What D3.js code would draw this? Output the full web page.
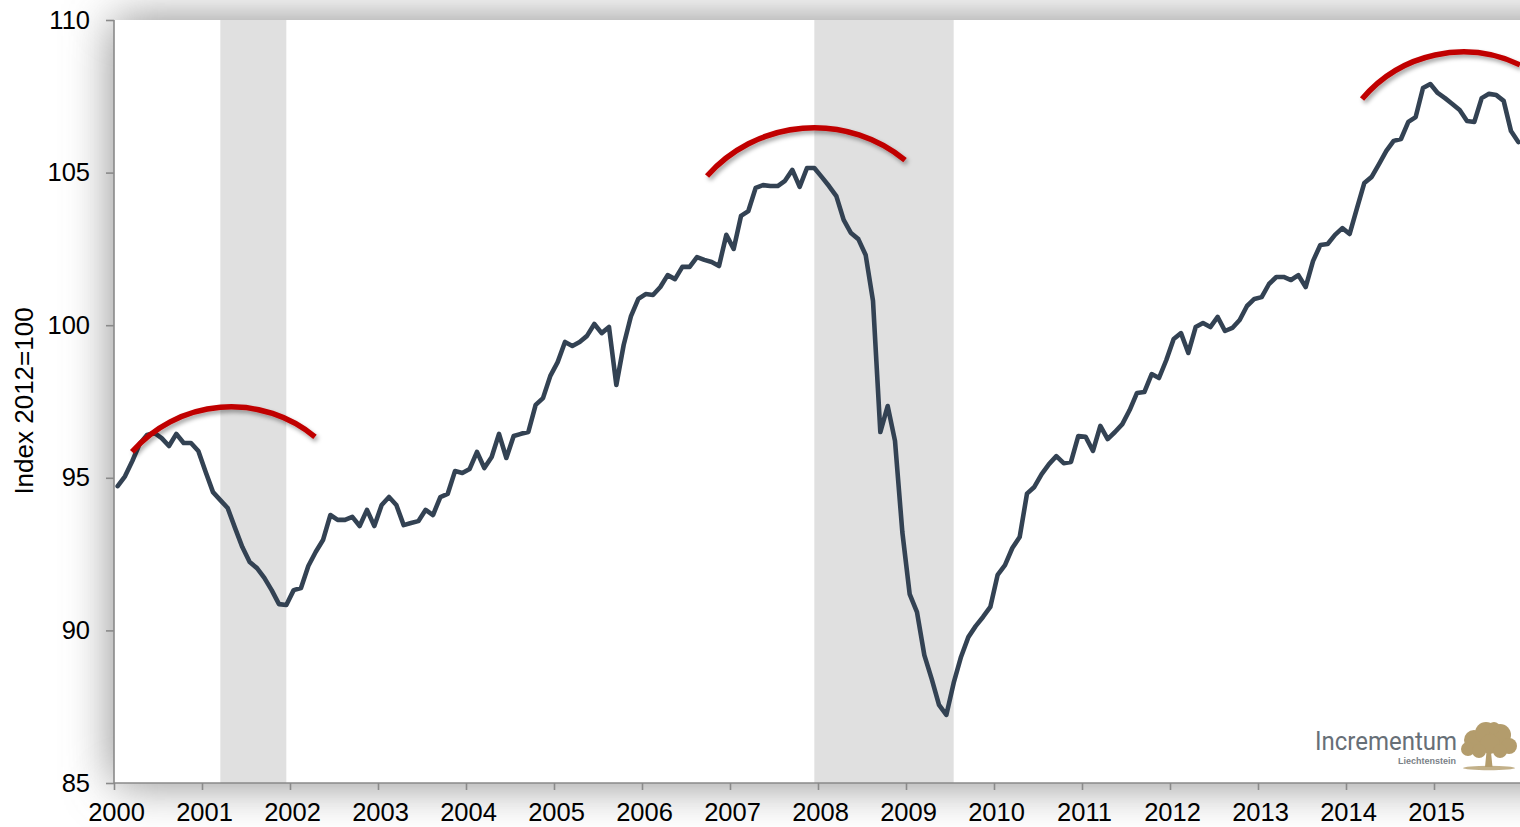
<!DOCTYPE html>
<html>
<head>
<meta charset="utf-8">
<script src="https://cdn.jsdelivr.net/npm/d3@7"></script>
<style>
  html, body { margin: 0; padding: 0; background: #ffffff; }
  svg { display: block; }
</style>
</head>
<body>
<svg id="chart" width="1520" height="827"></svg>
<script>
// ---------------- DATA ----------------
const startYear = 2000;
const yearTicks = [2000, 2001, 2002, 2003, 2004, 2005, 2006, 2007, 2008, 2009, 2010, 2011, 2012, 2013, 2014, 2015];
const yTicks = [85, 90, 95, 100, 105, 110];
const yTitle = "Index 2012=100";

// monthly index values, Jan 2000 .. Dec 2015
const indexValues = [
  94.73, 95.05, 95.55, 96.11, 96.40, 96.47, 96.30, 96.04, 96.44, 96.14, 96.14, 95.88,   // 2000
  95.19, 94.53, 94.27, 94.01, 93.36, 92.73, 92.24, 92.04, 91.72, 91.32, 90.86, 90.83,   // 2001
  91.32, 91.39, 92.11, 92.57, 92.96, 93.78, 93.62, 93.62, 93.72, 93.42, 93.95, 93.42,   // 2002
  94.11, 94.37, 94.11, 93.45, 93.52, 93.58, 93.95, 93.78, 94.37, 94.47, 95.22, 95.16,   // 2003
  95.29, 95.85, 95.32, 95.68, 96.44, 95.65, 96.37, 96.44, 96.50, 97.39, 97.61, 98.34,   // 2004
  98.79, 99.45, 99.32, 99.45, 99.65, 100.04, 99.74, 99.94, 98.04, 99.35, 100.30, 100.86, // 2005
  101.02, 100.99, 101.25, 101.64, 101.51, 101.91, 101.91, 102.23, 102.14, 102.07, 101.94, 102.96, // 2006
  102.50, 103.58, 103.74, 104.50, 104.59, 104.56, 104.56, 104.73, 105.09, 104.53, 105.15, 105.15, // 2007
  104.86, 104.56, 104.23, 103.45, 103.02, 102.82, 102.30, 100.80, 96.50, 97.35, 96.21, 93.22,   // 2008
  91.19, 90.60, 89.19, 88.41, 87.56, 87.23, 88.28, 89.13, 89.78, 90.14, 90.44, 90.77,   // 2009
  91.82, 92.14, 92.70, 93.06, 94.48, 94.70, 95.12, 95.45, 95.71, 95.48, 95.52, 96.37,   // 2010
  96.34, 95.88, 96.70, 96.27, 96.50, 96.76, 97.22, 97.78, 97.81, 98.40, 98.27, 98.86,   // 2011
  99.55, 99.74, 99.09, 99.94, 100.07, 99.94, 100.27, 99.81, 99.91, 100.17, 100.63, 100.86, // 2012
  100.92, 101.35, 101.58, 101.58, 101.48, 101.64, 101.25, 102.10, 102.63, 102.66, 102.96, 103.18, // 2013
  102.99, 103.84, 104.66, 104.86, 105.28, 105.71, 106.04, 106.10, 106.66, 106.82, 107.77, 107.90, // 2014
  107.61, 107.44, 107.25, 107.05, 106.69, 106.66, 107.44, 107.58, 107.54, 107.35, 106.36, 106.00  // 2015
];

// recessions (first and last month); shading runs from mid start month to mid month after end
const recessionStarts = ["2001-03", "2007-12"];
const recessionEnds   = ["2001-11", "2009-06"];

// red "top" arcs, in data units: start, top, end  [fractional year, index]
const arcStarts = [[2000.205, 95.85], [2006.739, 104.89], [2014.182, 107.41]];
const arcTops   = [[2001.261, 97.32], [2007.852, 106.46], [2015.295, 108.95]];
const arcEnds   = [[2002.284, 96.34], [2008.989, 105.41], [2015.977, 108.53]];

// ---------------- LAYOUT ----------------
const W = 1520, H = 827;
const plotLeft = 114, plotTop = 20, plotBottom = 783, plotRight = 1520;

const svg = d3.select("#chart");
const defs = svg.append("defs");

const x = d3.scaleLinear().domain([2000, 2016]).range([plotLeft, plotLeft + 88 * 16]);
const y = d3.scaleLinear().domain([85, 110]).range([plotBottom, plotTop]);

const monthPos = i => startYear + (i + 0.5) / 12;
const parseMonth = s => { const [yy, mm] = s.split("-").map(Number); return yy + (mm - 1 + 0.5) / 12; };

// shadow / glow around plot frame
const glow = defs.append("filter").attr("id", "glow")
  .attr("filterUnits", "userSpaceOnUse")
  .attr("x", -200).attr("y", -200).attr("width", W + 600).attr("height", H + 400);
glow.append("feGaussianBlur").attr("stdDeviation", 24);

svg.append("rect")
  .attr("x", plotLeft).attr("y", plotTop)
  .attr("width", plotRight - plotLeft + 200).attr("height", plotBottom - plotTop)
  .attr("fill", "#868686")
  .attr("filter", "url(#glow)");

svg.append("rect")
  .attr("x", plotLeft).attr("y", plotTop)
  .attr("width", plotRight - plotLeft + 10).attr("height", plotBottom - plotTop)
  .attr("fill", "#ffffff");

// clip
defs.append("clipPath").attr("id", "plotClip")
  .append("rect")
  .attr("x", plotLeft).attr("y", plotTop - 10)
  .attr("width", plotRight - plotLeft).attr("height", plotBottom - plotTop + 10);

defs.append("clipPath").attr("id", "plotClipStrict")
  .append("rect")
  .attr("x", plotLeft).attr("y", plotTop)
  .attr("width", plotRight - plotLeft).attr("height", plotBottom - plotTop);

// recession shading
const rec = recessionStarts.map((s, i) => ({ s: parseMonth(s), e: parseMonth(recessionEnds[i]) + 1 / 12 }));
svg.append("g").attr("clip-path", "url(#plotClipStrict)")
  .selectAll("rect").data(rec).join("rect")
  .attr("x", d => x(d.s))
  .attr("width", d => x(d.e) - x(d.s))
  .attr("y", plotTop)
  .attr("height", plotBottom - plotTop)
  .attr("fill", "#e0e0e0");

// axes
const axisColor = "#8a8a8a";
const fontFam = "'Liberation Sans', Arial, Helvetica, sans-serif";

const yAxis = d3.axisLeft(y).tickValues(yTicks).tickSize(8).tickPadding(16).tickFormat(d3.format("d"));
const gy = svg.append("g").attr("transform", `translate(${plotLeft},0)`).call(yAxis);
gy.select(".domain").attr("stroke", axisColor).attr("stroke-width", 1.6)
  .attr("d", `M0,${plotTop}V${plotBottom}`);
gy.selectAll(".tick line").attr("stroke", axisColor).attr("stroke-width", 1.6);
gy.selectAll(".tick text").attr("fill", "#000").style("font-family", fontFam).style("font-size", "25.5px");

const xAxis = d3.axisBottom(x).tickValues(yearTicks).tickSize(7).tickPadding(13).tickFormat(d3.format("d"));
const gx = svg.append("g").attr("transform", `translate(0,${plotBottom})`).call(xAxis);
gx.select(".domain").attr("stroke", axisColor).attr("stroke-width", 1.6)
  .attr("d", `M${plotLeft},0H${plotRight}`);
gx.selectAll(".tick line").attr("stroke", axisColor).attr("stroke-width", 1.6);
gx.selectAll(".tick text").attr("fill", "#000").style("font-family", fontFam).style("font-size", "25.5px")
  .attr("dx", 2);

// y-axis title
svg.append("text")
  .attr("transform", `translate(33,401) rotate(-90)`)
  .attr("text-anchor", "middle")
  .style("font-family", fontFam).style("font-size", "26px")
  .attr("fill", "#000")
  .text(yTitle);

// main line
const line = d3.line().x((d, i) => x(monthPos(i))).y(d => y(d));
svg.append("path")
  .attr("clip-path", "url(#plotClip)")
  .datum(indexValues)
  .attr("d", line)
  .attr("fill", "none")
  .attr("stroke", "#334253")
  .attr("stroke-width", 4.6)
  .attr("stroke-linejoin", "round")
  .attr("stroke-linecap", "round");

// red arcs
const arcShadow = defs.append("filter").attr("id", "arcShadow")
  .attr("x", "-20%").attr("y", "-50%").attr("width", "140%").attr("height", "200%");
arcShadow.append("feDropShadow").attr("dx", 2).attr("dy", 3).attr("stdDeviation", 2)
  .attr("flood-color", "#000").attr("flood-opacity", 0.35);

function circleArc(p1, p2, p3) {
  const [ax, ay] = p1, [bx, by] = p2, [cx, cy] = p3;
  const d = 2 * (ax * (by - cy) + bx * (cy - ay) + cx * (ay - by));
  const ux = ((ax * ax + ay * ay) * (by - cy) + (bx * bx + by * by) * (cy - ay) + (cx * cx + cy * cy) * (ay - by)) / d;
  const uy = ((ax * ax + ay * ay) * (cx - bx) + (bx * bx + by * by) * (ax - cx) + (cx * cx + cy * cy) * (bx - ax)) / d;
  const r = Math.hypot(ax - ux, ay - uy);
  return `M${ax},${ay}A${r},${r} 0 0 1 ${cx},${cy}`;
}
const arcData = arcStarts.map((s, i) => [
  [x(s[0]), y(s[1])],
  [x(arcTops[i][0]), y(arcTops[i][1])],
  [x(arcEnds[i][0]), y(arcEnds[i][1])]
]);
svg.append("g").attr("clip-path", "url(#plotClip)")
  .selectAll("path").data(arcData).join("path")
  .attr("d", d => circleArc(d[0], d[1], d[2]))
  .attr("fill", "none")
  .attr("stroke", "#c00000")
  .attr("stroke-width", 5.5)
  .attr("filter", "url(#arcShadow)");

// logo
const logo = svg.append("g");
logo.append("text")
  .attr("x", 1315).attr("y", 750)
  .attr("textLength", 142).attr("lengthAdjust", "spacingAndGlyphs")
  .style("font-family", "'Liberation Sans Narrow', 'Roboto', 'Liberation Sans', sans-serif")
  .style("font-size", "26px")
  .attr("fill", "#676f77")
  .text("Incrementum");
logo.append("text")
  .attr("x", 1456).attr("y", 764)
  .attr("text-anchor", "end")
  .style("font-family", fontFam)
  .style("font-size", "9px")
  .style("font-weight", "bold")
  .attr("fill", "#7a8188")
  .text("Liechtenstein");
const treeCol = "#b39c6c";
const tree = logo.append("g").attr("fill", treeCol);
tree.append("ellipse").attr("cx", 1489).attr("cy", 768).attr("rx", 26).attr("ry", 2.2).attr("opacity", 0.8);
tree.append("path").attr("d", "M1485,767 L1486.5,752 L1478,745 L1482,744 L1488,749 L1494,742 L1497,743 L1491,752 L1492.5,767 Z");
[[1474, 740, 10], [1486, 733, 11], [1500, 735, 11], [1468, 749, 7], [1509, 746, 8], [1490, 744, 10], [1479, 751, 7], [1500, 751, 7], [1494, 728, 6]]
  .forEach(c => tree.append("circle").attr("cx", c[0]).attr("cy", c[1]).attr("r", c[2]));
</script>
</body>
</html>
